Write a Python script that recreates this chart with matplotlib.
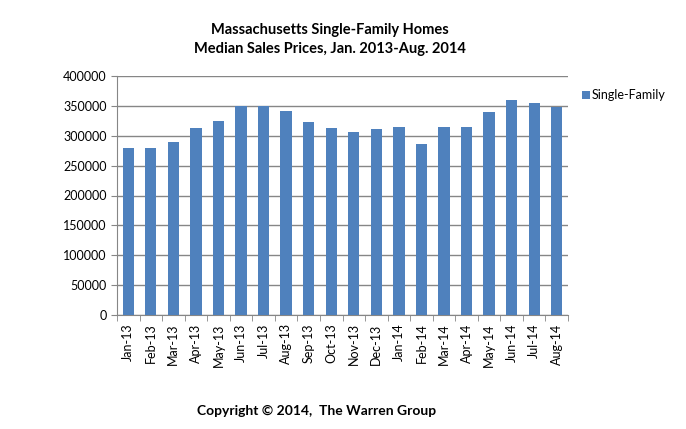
import matplotlib.pyplot as plt
import numpy as np

months = ['Jan-13', 'Feb-13', 'Mar-13', 'Apr-13', 'May-13', 'Jun-13', 'Jul-13',
          'Aug-13', 'Sep-13', 'Oct-13', 'Nov-13', 'Dec-13', 'Jan-14', 'Feb-14',
          'Mar-14', 'Apr-14', 'May-14', 'Jun-14', 'Jul-14', 'Aug-14']
prices = [280000, 280000, 290000, 313000, 325000, 350000, 350000,
          341000, 323500, 313000, 306800, 311300, 314600, 286000,
          314600, 314600, 339700, 359800, 354800, 348600]
yticks = [0, 50000, 100000, 150000, 200000, 250000, 300000, 350000, 400000]

plt.rcParams['font.family'] = ['Lato', 'DejaVu Sans']

fig = plt.figure(figsize=(6.86, 4.29), dpi=100)
ax = fig.add_axes([117/686, 1 - 315/429, 451/686, 239/429])

x = np.arange(len(months))
ax.bar(x, prices, width=0.5, color='#4F81BD', label='Single-Family', zorder=3)

ax.set_xlim(-0.5, len(months) - 0.5)
ax.set_ylim(0, 400000)
ax.set_yticks(yticks)
ax.set_yticklabels([str(v) for v in yticks], fontsize=9)
ax.yaxis.grid(True, color='#868686', linewidth=1, zorder=0)

ax.set_xticks(x)
ax.set_xticklabels(months, rotation=90, fontsize=9)
ax.set_xticks(np.arange(-0.5, len(months)), minor=True)
ax.tick_params(axis='x', which='major', length=0, pad=6)
ax.tick_params(axis='x', which='minor', length=4, color='#868686')
ax.tick_params(axis='y', length=4, color='#868686', direction='out')

for s in ['top', 'right']:
    ax.spines[s].set_visible(False)
for s in ['left', 'bottom']:
    ax.spines[s].set_color('#868686')

fig.text(330/686, 1 - 30/429, 'Massachusetts Single-Family Homes', ha='center', va='center',
         fontsize=10.5, fontweight='bold')
fig.text(330/686, 1 - 49/429, 'Median Sales Prices, Jan. 2013-Aug. 2014', ha='center', va='center',
         fontsize=10.5, fontweight='bold')
fig.text(317/686, 1 - 411/429, 'Copyright \u00a9 2014,  The Warren Group', ha='center', va='center',
         fontsize=10, fontweight='bold')

ax.legend(loc='upper left', bbox_to_anchor=(582/686, 1 - 89/429), bbox_transform=fig.transFigure,
          frameon=False, fontsize=9, handlelength=0.6, handleheight=0.6, handletextpad=0.15,
          borderaxespad=0, borderpad=0)

fig.savefig('out.png', dpi=100)
